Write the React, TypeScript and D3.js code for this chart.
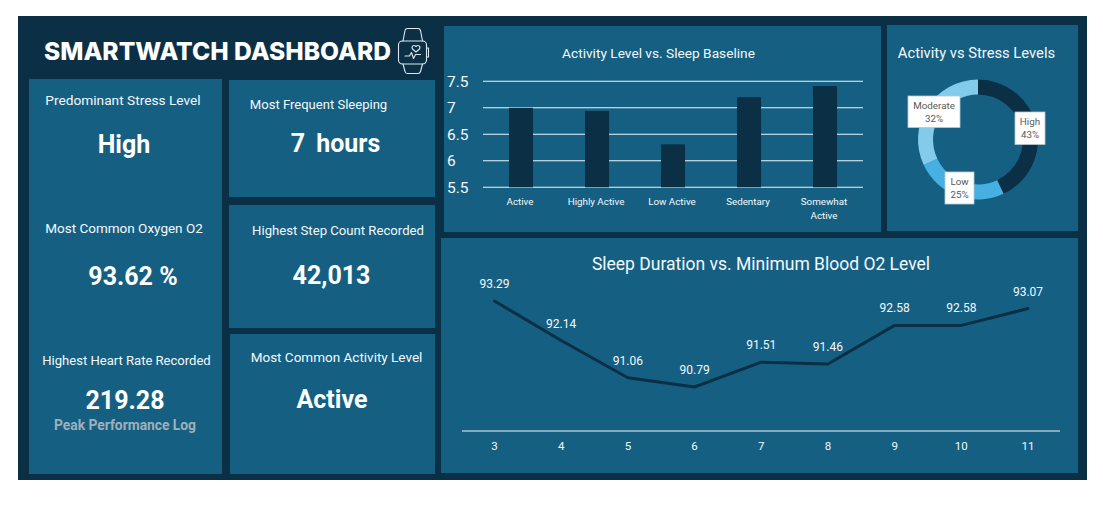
import React from "react";
import * as d3 from "d3";

const activityLevels = ["Active", "Highly Active", "Low Active", "Sedentary", "Somewhat Active"];
const sleepBaseline = [7.0, 6.94, 6.31, 7.2, 7.41];
const yTicks = [5.5, 6, 6.5, 7, 7.5];

const stressLevels = ["High", "Low", "Moderate"];
const stressShares = [43, 25, 32];
const stressColors = ["#0b2f45", "#45b0e1", "#83cbeb"];

const sleepHours = [3, 4, 5, 6, 7, 8, 9, 10, 11];
const minO2 = [93.29, 92.14, 91.06, 90.79, 91.51, 91.46, 92.58, 92.58, 93.07];

const BG = "#0b2f45";
const PANEL = "#156082";
const TEXT = "#f4f8fb";
const FONT = "Roboto, 'Noto Sans', sans-serif";

const panels = [
  [29, 79, 193, 395],
  [229, 80, 206, 117],
  [229, 205, 206, 123],
  [230, 334, 205, 140],
  [444, 26, 437, 206],
  [887, 25, 191, 206],
  [441, 238, 637, 235],
];

const cards = [
  { t: "Predominant Stress Level", fs: 13.7, tx: 123, ty: 105, v: "High", vx: 124, vy: 153, ws: 0 },
  { t: "Most Common Oxygen O2", fs: 13.5, tx: 124, ty: 233, v: "93.62 %", vx: 133, vy: 285, ws: 0 },
  { t: "Highest Heart Rate Recorded", fs: 13.05, tx: 126.5, ty: 365, v: "219.28", vx: 125, vy: 409, ws: 0 },
  { t: "Most Frequent Sleeping", fs: 13.05, tx: 318.5, ty: 109, v: "7 hours", vx: 335.5, vy: 152, ws: 5 },
  { t: "Highest Step Count Recorded", fs: 13.15, tx: 338, ty: 235, v: "42,013", vx: 331.5, vy: 284, ws: 0 },
  { t: "Most Common Activity Level", fs: 13.5, tx: 336.5, ty: 362, v: "Active", vx: 332, vy: 408, ws: 0 },
];

function BarChart() {
  const x = d3.scaleBand<string>().domain(activityLevels).range([483, 863]).paddingInner(0.684).paddingOuter(0.342);
  const y = d3.scaleLinear().domain([5.5, 7.5]).range([187.3, 81.3]);
  return (
    <g fontFamily={FONT}>
      <text x={658.5} y={58} textAnchor="middle" fontSize={13.7} fill={TEXT}>Activity Level vs. Sleep Baseline</text>
      {yTicks.map((t) => (
        <g key={t}>
          <line x1={483} x2={863} y1={y(t)} y2={y(t)} stroke="#eef5f9" strokeWidth={1.1} />
          <text x={447} y={y(t) + 5.5} fontSize={15.5} fill={TEXT}>{t}</text>
        </g>
      ))}
      {activityLevels.map((c, i) => (
        <rect key={c} x={x(c)} y={y(sleepBaseline[i])} width={x.bandwidth()} height={y(5.5) - y(sleepBaseline[i])} fill={BG} />
      ))}
      {activityLevels.map((c) => {
        const cx = x(c)! + x.bandwidth() / 2 - 1;
        const lines = c === "Somewhat Active" ? ["Somewhat", "Active"] : [c];
        return lines.map((l, j) => (
          <text key={l} x={cx} y={205 + j * 13.5} textAnchor="middle" fontSize={9.8} fill={TEXT}>{l}</text>
        ));
      })}
    </g>
  );
}

function Donut() {
  const cx = 978, cy = 139.5;
  const pie = d3.pie<number>().sort(null)(stressShares);
  const arc = d3.arc<d3.PieArcDatum<number>>().innerRadius(45).outerRadius(60);
  const boxes = [
    { x: 1015, y: 112, w: 30, h: 32.5 },
    { x: 945, y: 172, w: 29, h: 32 },
    { x: 908, y: 96, w: 52, h: 31.5 },
  ];
  return (
    <g fontFamily={FONT}>
      <text x={976.5} y={58} textAnchor="middle" fontSize={14.75} fill={TEXT}>Activity vs Stress Levels</text>
      {pie.map((p, i) => (
        <path key={stressLevels[i]} d={arc(p)!} transform={`translate(${cx},${cy})`} fill={stressColors[i]} />
      ))}
      {boxes.map((b, i) => (
        <g key={stressLevels[i]}>
          <rect x={b.x} y={b.y} width={b.w} height={b.h} fill="#ffffff" stroke="#b9c6ce" strokeWidth={0.8} />
          <text x={b.x + b.w / 2} y={b.y + 13} textAnchor="middle" fontSize={9.8} fill="#595959">{stressLevels[i]}</text>
          <text x={b.x + b.w / 2} y={b.y + 26} textAnchor="middle" fontSize={9.8} fill="#595959">{stressShares[i]}%</text>
        </g>
      ))}
    </g>
  );
}

function LineChart() {
  const x = d3.scalePoint<number>().domain(sleepHours).range([494.5, 1028]);
  const y = d3.scaleLinear().domain([89.51, 93.29]).range([431, 301]);
  const line = d3.line<number>().x((_, i) => x(sleepHours[i])!).y((d) => y(d));
  return (
    <g fontFamily={FONT}>
      <text x={761} y={270} textAnchor="middle" fontSize={17.5} fill={TEXT}>Sleep Duration vs. Minimum Blood O2 Level</text>
      <line x1={462} x2={1060} y1={431} y2={431} stroke="#eef5f9" strokeWidth={1} />
      <path d={line(minO2)!} fill="none" stroke={BG} strokeWidth={3} strokeLinecap="round" strokeLinejoin="round" />
      {minO2.map((v, i) => (
        <text key={i} x={x(sleepHours[i])!} y={y(v) - 13} textAnchor="middle" fontSize={12} fill={TEXT}>{v.toFixed(2)}</text>
      ))}
      {sleepHours.map((h) => (
        <text key={h} x={x(h)} y={450} textAnchor="middle" fontSize={11.5} fill={TEXT}>{h}</text>
      ))}
    </g>
  );
}

function WatchIcon() {
  return (
    <g fill="none" stroke="#dfe8ee" strokeWidth={1.1} strokeLinejoin="round" strokeLinecap="round">
      <rect x={398.5} y={41} width={28} height={23} rx={4} />
      <path d="M403 41 L405 30.5 Q405.4 28.5 407.5 28.5 H418 Q420 28.5 420.5 30.5 L422.5 41" />
      <path d="M403 64 L405 71.5 Q405.4 73.5 407.5 73.5 H418 Q420 73.5 420.5 71.5 L422.5 64" />
      <path d="M426.5 48 H428.5 V57 H426.5" />
      <path d="M405 56 H409.5 L411.5 52.5 L413.5 58.5 L415.5 54.5 H420.5" />
      <path d="M412.5 49 C411 46 414 44.5 416 46.5 C418 44.5 421 46 419.5 49 L416 52 Z" />
    </g>
  );
}

export default function App() {
  return (
    <svg width={1103} height={510} style={{ position: "absolute", left: 0, top: 0, display: "block", background: "#fff" }}>
      <rect x={18} y={16} width={1069} height={464} fill={BG} />
      {panels.map((p, i) => <rect key={i} x={p[0]} y={p[1]} width={p[2]} height={p[3]} fill={PANEL} />)}
      <text x={44} y={59.5} fontFamily="Inter, sans-serif" fontWeight={800} fontSize={24.6} fill="#fff">SMARTWATCH DASHBOARD</text>
      <WatchIcon />
      {cards.map((c) => (
        <g key={c.t} fontFamily={FONT}>
          <text x={c.tx} y={c.ty} textAnchor="middle" fontSize={c.fs} fill={TEXT}>{c.t}</text>
          <text x={c.vx} y={c.vy} textAnchor="middle" fontSize={25} fontWeight={700} fill="#fff" wordSpacing={c.ws}>{c.v}</text>
        </g>
      ))}
      <text x={125} y={430} textAnchor="middle" fontFamily={FONT} fontSize={13.8} fontWeight={700} fill="#9fb0ba">Peak Performance Log</text>
      <BarChart />
      <Donut />
      <LineChart />
    </svg>
  );
}
